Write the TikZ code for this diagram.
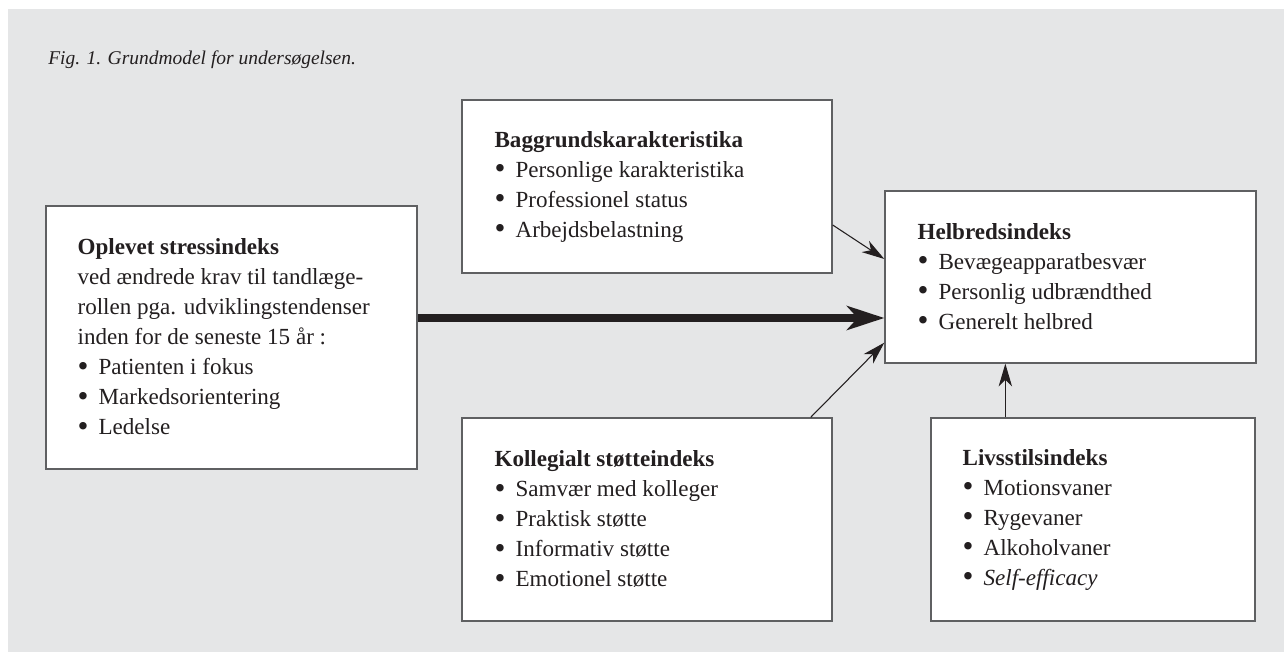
\documentclass[tikz,border=0pt]{standalone}
\usepackage{fontspec}
\setmainfont{Liberation Serif}
\usetikzlibrary{arrows.meta,calc}

\definecolor{panelgray}{RGB}{229,230,231}
\definecolor{boxline}{RGB}{95,96,98}
\definecolor{ink}{RGB}{35,31,32}

\newcommand{\pkt}{\makebox[15.75pt][l]{\raisebox{-0.07em}{\scalebox{1.35}{\textbullet}}}}

\tikzset{
  boxfield/.style={draw=boxline, fill=white, line width=1pt, inner sep=0pt},
  boxtext/.style={anchor=west, align=left, inner sep=0pt, text=ink,
    font=\fontsize{17.3}{22.5}\selectfont},
  pil/.style={draw=ink, line width=0.8pt,
    -{Stealth[length=17pt, width=10pt, inset=5pt]}},
  tykpil/.style={draw=ink, line width=5.5pt,
    -{Stealth[length=28pt, width=18pt, inset=8pt]}}
}

\begin{document}
\begin{tikzpicture}[x=0.75pt,y=0.75pt,yscale=-1,xscale=1]
    \useasboundingbox (0,0) rectangle (1284,652);
    \fill[panelgray] (8,9) rectangle (1284,652);

    % caption
    \node (caption) [anchor=base west, inner sep=0pt, text=ink, font=\fontsize{14.6}{17}\selectfont\itshape] at (48,65) {Fig. 1. Grundmodel for undersøgelsen.};

    % boxes
    \node (oplevet) [boxfield, minimum width=278.25pt, minimum height=197.25pt] at (231.5,337.5) {};
    \node (baggrund) [boxfield, minimum width=277.5pt, minimum height=129.75pt] at (647,186.5) {};
    \node (helbred) [boxfield, minimum width=278.25pt, minimum height=129pt] at (1070.5,277) {};
    \node (kollegial) [boxfield, minimum width=277.5pt, minimum height=152.25pt] at (647,519.5) {};
    \node (livsstil) [boxfield, minimum width=243pt, minimum height=152.25pt] at (1093,519.5) {};

    % texts in the boxes
    \node (oplevettxt) [boxtext] at ($(oplevet.west)+(32,0)$) {\textbf{Oplevet stressindeks}\\ved ændrede krav til tandlæge-\\rollen pga. udviklingstendenser\\inden for de seneste 15 år :\\\pkt Patienten i fokus\\\pkt Markedsorientering\\\pkt Ledelse};
    \node (baggrundtxt) [boxtext] at ($(baggrund.west)+(33,0)$) {\textbf{Baggrundskarakteristika}\\\pkt Personlige karakteristika\\\pkt Professionel status\\\pkt Arbejdsbelastning};
    \node (helbredtxt) [boxtext] at ($(helbred.west)+(33,0)$) {\textbf{Helbredsindeks}\\\pkt Bevægeapparatbesvær\\\pkt Personlig udbrændthed\\\pkt Generelt helbred};
    \node (kollegialtxt) [boxtext] at ($(kollegial.west)+(33,0)$) {\textbf{Kollegialt støtteindeks}\\\pkt Samvær med kolleger\\\pkt Praktisk støtte\\\pkt Informativ støtte\\\pkt Emotionel støtte};
    \node (livsstiltxt) [boxtext] at ($(livsstil.west)+(32,0)$) {\textbf{Livsstilsindeks}\\\pkt Motionsvaner\\\pkt Rygevaner\\\pkt Alkoholvaner\\\pkt \textit{Self-efficacy}};

    % arrows
    \draw[pil] ($(baggrund.east)+(0,38.5)$) -- ($(helbred.west)+(0,-18)$);
    \draw[tykpil] ($(oplevet.east)+(0,-19.5)$) coordinate (tykstart) -- (tykstart -| helbred.west);
    \draw[pil] ($(kollegial.north east)+(-22,0)$) -- ($(helbred.south west)+(0,-21)$);
    \draw[pil] ($(livsstil.north west)+(75,0)$) coordinate (lsstart) -- (lsstart |- helbred.south);
\end{tikzpicture}
\end{document}
